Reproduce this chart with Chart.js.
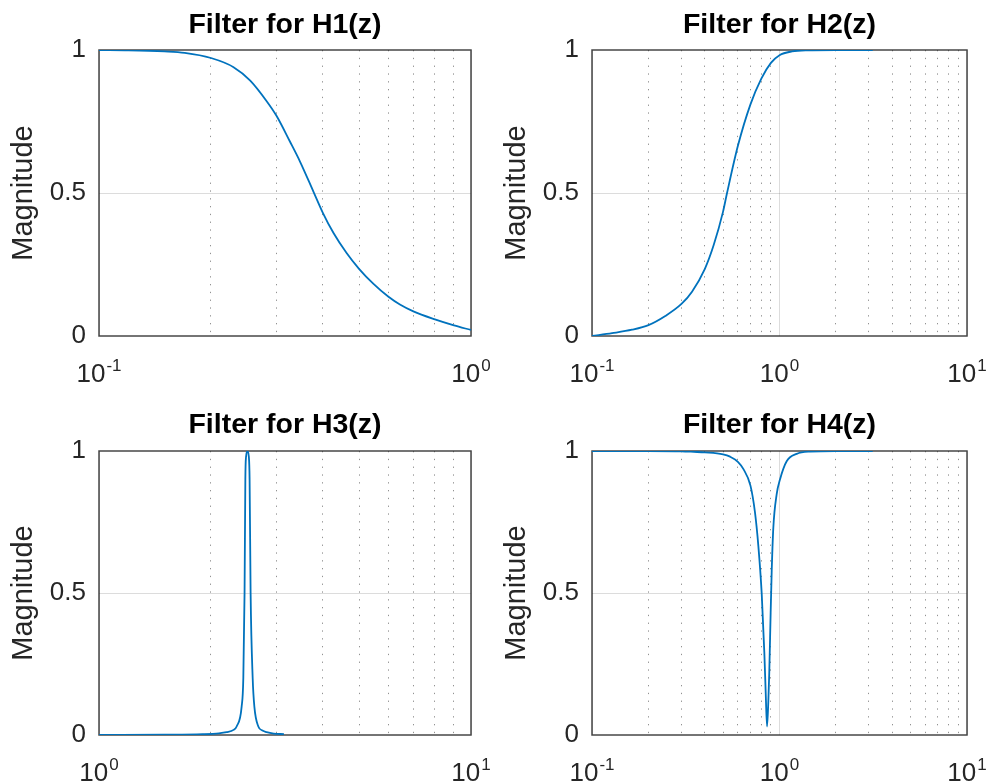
<!DOCTYPE html>
<html>
<head>
<meta charset="utf-8">
<title>Filters</title>
<script src="https://cdn.jsdelivr.net/npm/chart.js@4.4.1/dist/chart.umd.min.js"></script>
<style>
  html, body { margin: 0; padding: 0; background: #fff; }
  #wrap { position: relative; width: 987px; height: 783px; overflow: hidden; }
  canvas { position: absolute; }
</style>
</head>
<body>
<div id="wrap">
  <canvas id="h1" width="490" height="392" style="left:0;top:0"></canvas>
  <canvas id="h2" width="497" height="392" style="left:490px;top:0"></canvas>
  <canvas id="h3" width="490" height="391" style="left:0;top:392px"></canvas>
  <canvas id="h4" width="497" height="391" style="left:490px;top:392px"></canvas>
</div>
<script>
// magnitude responses (x = frequency, log scale)
const h1Freq = [0.1, 0.12, 0.15, 0.17, 0.2, 0.23, 0.255, 0.282, 0.3, 0.326, 0.347, 0.377, 0.4, 0.427, 0.463, 0.5, 0.546, 0.6, 0.644, 0.7, 0.8, 0.9, 1.0];
const h1Mag  = [1.0, 0.999, 0.995, 0.99, 0.972, 0.94, 0.893, 0.822, 0.77, 0.68, 0.61, 0.505, 0.43, 0.36, 0.29, 0.235, 0.183, 0.137, 0.11, 0.086, 0.058, 0.037, 0.021];

const h2Freq = [0.1, 0.128, 0.1635, 0.2, 0.246, 0.3, 0.3415, 0.4, 0.4457, 0.5, 0.525, 0.6, 0.7, 0.8, 0.9, 1.0, 1.166, 1.4, 2.0, 3.1416];
const h2Mag  = [0.0, 0.01, 0.022, 0.038, 0.07, 0.112, 0.155, 0.235, 0.318, 0.435, 0.50, 0.665, 0.81, 0.9, 0.955, 0.982, 0.995, 0.999, 1.0, 1.0];

const h3Freq = [1.0, 1.5, 1.9, 2.1, 2.203, 2.3, 2.344, 2.418, 2.443, 2.462, 2.474, 2.485, 2.506, 2.528, 2.54, 2.556, 2.589, 2.616, 2.681, 2.75, 2.823, 2.95, 3.1416];
const h3Mag  = [0.0, 0.001, 0.003, 0.006, 0.01, 0.018, 0.03, 0.1, 0.2, 0.5, 0.9, 0.98, 1.0, 0.98, 0.9, 0.5, 0.2, 0.1, 0.03, 0.016, 0.01, 0.005, 0.003];

const h4Freq = [0.1, 0.2, 0.3, 0.35, 0.4, 0.5, 0.545, 0.6, 0.641, 0.7, 0.74, 0.771, 0.804, 0.83, 0.845, 0.858, 0.872, 0.882, 0.897, 0.909, 0.927, 0.966, 1.006, 1.092, 1.235, 1.455, 2.0, 3.1416];
const h4Mag  = [1.0, 1.0, 0.999, 0.997, 0.995, 0.988, 0.98, 0.962, 0.937, 0.878, 0.784, 0.667, 0.496, 0.291, 0.14, 0.03, 0.12, 0.22, 0.43, 0.58, 0.73, 0.848, 0.90, 0.964, 0.99, 0.998, 1.0, 1.0];

// grid ticks per decade and decade labels
const ticksTenth = [0.1, 0.2, 0.3, 0.4, 0.5, 0.6, 0.7, 0.8, 0.9, 1];
const ticksOne   = [1, 2, 3, 4, 5, 6, 7, 8, 9, 10];
const ticksTwoDec = [0.1, 0.2, 0.3, 0.4, 0.5, 0.6, 0.7, 0.8, 0.9, 1, 2, 3, 4, 5, 6, 7, 8, 9, 10];
const decades = [0.1, 1, 10];
const decadeExp = ['-1', '0', '1'];
const yTicks = [0, 0.5, 1];
const yTickLabels = ['0', '0.5', '1'];

const FONT = "'Liberation Sans', Arial, Helvetica, sans-serif";
const AXIS = '#262626';
Chart.defaults.font.family = FONT;

// box around plot area, drawn under the curve
const boxPlugin = {
  id: 'box',
  beforeDatasetsDraw(chart) {
    const a = chart.chartArea, ctx = chart.ctx;
    ctx.save();
    ctx.strokeStyle = 'rgba(38,38,38,0.85)';
    ctx.lineWidth = 1.5;
    ctx.strokeRect(a.left, a.top, a.right - a.left, a.bottom - a.top);
    ctx.restore();
  }
};

// 10^n labels with a raised exponent
const decadeLabels = {
  id: 'decadeLabels',
  afterDraw(chart) {
    const xs = chart.scales.x, ctx = chart.ctx;
    const base = chart.chartArea.bottom + 46;
    ctx.save();
    ctx.fillStyle = AXIS;
    ctx.textBaseline = 'alphabetic';
    decades.forEach((v, i) => {
      if (v < xs.min - 1e-9 || v > xs.max + 1e-9) return;
      const px = xs.getPixelForValue(v);
      ctx.font = '26px ' + FONT;
      const w1 = ctx.measureText('10').width;
      ctx.font = '17px ' + FONT;
      const w2 = ctx.measureText(decadeExp[i]).width;
      const x0 = px - (w1 + w2 + 1) / 2;
      ctx.font = '26px ' + FONT;
      ctx.textAlign = 'left';
      ctx.fillText('10', x0, base);
      ctx.font = '17px ' + FONT;
      ctx.fillText(decadeExp[i], x0 + w1 + 1, base - 11);
    });
    ctx.restore();
  }
};

function makeChart(id, title, freq, mag, xmin, xmax, xTicks, opts) {
  const points = freq.map((f, i) => ({ x: f, y: mag[i] }));
  return new Chart(document.getElementById(id), {
    type: 'line',
    data: {
      datasets: [{
        data: points,
        borderColor: '#0072BD',
        borderWidth: 1.8,
        pointRadius: 0,
        cubicInterpolationMode: 'monotone',
        fill: false
      }]
    },
    options: {
      responsive: false,
      animation: false,
      events: [],
      layout: { padding: { left: 0, right: opts.right, top: 0, bottom: 0 } },
      plugins: {
        legend: { display: false },
        tooltip: { enabled: false },
        title: {
          display: true,
          fullSize: false,
          text: title,
          color: '#000',
          font: { size: 28.5, weight: 'bold', family: FONT },
          padding: { top: opts.titleTop, bottom: opts.titleBottom }
        }
      },
      scales: {
        x: {
          type: 'logarithmic',
          min: xmin,
          max: xmax,
          afterBuildTicks(scale) {
            scale.ticks = xTicks.map(v => ({ value: v, major: decades.includes(v) }));
          },
          afterFit(scale) { scale.height = opts.xHeight; },
          ticks: { display: false },
          grid: {
            drawTicks: false,
            lineWidth: 1,
            color: ctx => (ctx.tick && ctx.tick.major) ? 'rgba(38,38,38,0.16)' : 'rgba(38,38,38,0.5)'
          },
          border: {
            display: false,
            dash: ctx => (ctx.tick && !ctx.tick.major) ? [1.3, 6.5] : []
          }
        },
        y: {
          min: 0,
          max: 1,
          afterBuildTicks(scale) {
            scale.ticks = yTicks.map(v => ({ value: v }));
          },
          afterFit(scale) { scale.width = opts.yWidth; },
          ticks: {
            color: AXIS,
            padding: 13,
            font: { size: 26, family: FONT },
            callback: (v, i) => yTickLabels[i]
          },
          grid: {
            drawTicks: false,
            lineWidth: 1,
            color: ctx => (ctx.tick && ctx.tick.value === 0.5) ? 'rgba(38,38,38,0.16)' : 'rgba(0,0,0,0)'
          },
          border: { display: false },
          title: {
            display: true,
            text: 'Magnitude',
            color: AXIS,
            font: { size: 29, family: FONT },
            padding: { top: opts.yTitlePad, bottom: 0 }
          }
        }
      }
    },
    plugins: [boxPlugin, decadeLabels]
  });
}

makeChart('h1', 'Filter for H1(z)', h1Freq, h1Mag, 0.1, 1, ticksTenth,
  { right: 19, yWidth: 99, xHeight: 56, titleTop: 8.5, titleBottom: 7.3, yTitlePad: 6.6 });
makeChart('h2', 'Filter for H2(z)', h2Freq, h2Mag, 0.1, 10, ticksTwoDec,
  { right: 20, yWidth: 102, xHeight: 56, titleTop: 8.5, titleBottom: 7.3, yTitlePad: 9.6 });
makeChart('h3', 'Filter for H3(z)', h3Freq, h3Mag, 1, 10, ticksOne,
  { right: 19, yWidth: 99, xHeight: 48, titleTop: 15.8, titleBottom: 9, yTitlePad: 6.6 });
makeChart('h4', 'Filter for H4(z)', h4Freq, h4Mag, 0.1, 10, ticksTwoDec,
  { right: 20, yWidth: 102, xHeight: 48, titleTop: 15.8, titleBottom: 9, yTitlePad: 9.6 });
</script>
</body>
</html>
